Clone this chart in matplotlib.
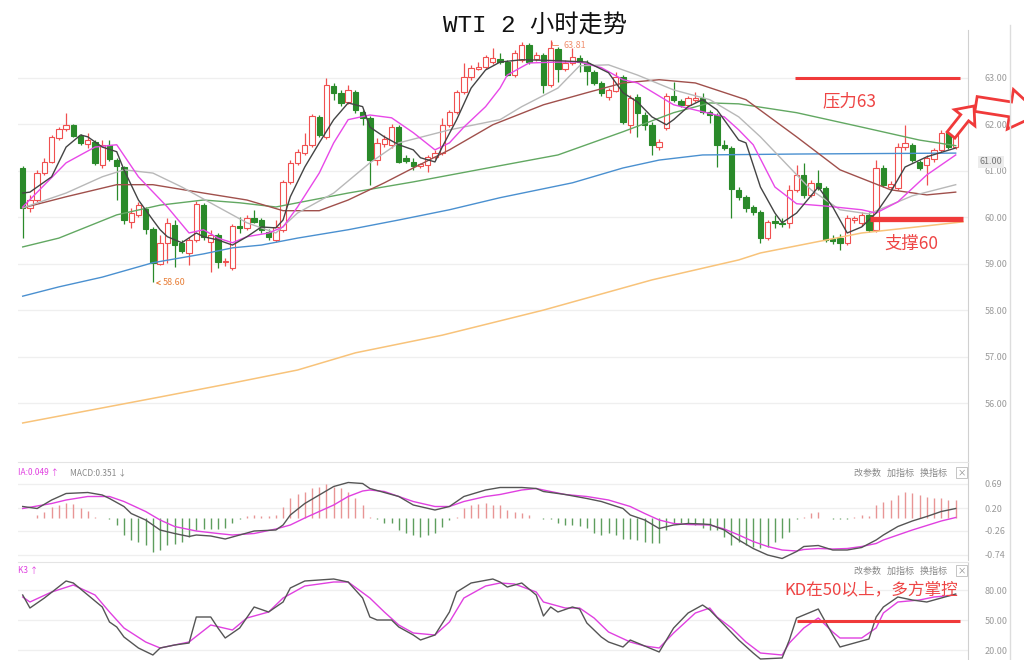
import matplotlib
matplotlib.use('Agg')
import matplotlib.pyplot as plt
from matplotlib.patches import FancyArrow
from matplotlib.lines import Line2D
from matplotlib.transforms import IdentityTransform
import numpy as np

plt.rcParams['font.family'] = ['Noto Sans CJK SC', 'DejaVu Sans']

# 2h candles
opens = [61.06, 60.20, 60.37, 60.95, 61.19, 61.71, 61.90, 61.99, 61.75, 61.58,
         61.62, 61.13, 61.56, 61.23, 61.08, 59.90, 60.05, 60.18, 59.75, 58.99,
         59.45, 59.83, 59.45, 59.23, 59.51, 60.26, 59.47, 59.62, 59.04, 58.91,
         59.81, 59.77, 59.98, 59.94, 59.68, 59.51, 59.73, 60.76, 61.17, 61.38,
         61.56, 62.16, 61.73, 62.83, 62.68, 62.48, 62.70, 62.27, 62.14, 61.23,
         61.58, 61.56, 61.94, 61.28, 61.19, 61.11, 61.13, 61.30, 61.38, 61.99,
         62.27, 62.70, 63.02, 63.20, 63.24, 63.34, 63.41, 63.34, 63.06, 63.39,
         63.71, 63.41, 63.50, 62.85, 63.62, 63.19, 63.32, 63.43, 63.32, 63.13,
         62.89, 62.59, 62.72, 63.02, 61.99, 62.59, 62.20, 61.99, 61.51, 61.92,
         62.61, 62.50, 62.42, 62.52, 62.57, 62.27, 62.20, 61.56, 61.49, 60.59,
         60.44, 60.22, 60.11, 59.55, 59.92, 59.88, 59.88, 60.59, 60.91, 60.48,
         60.74, 60.63, 59.53, 59.55, 59.45, 59.94, 59.88, 60.05, 59.73, 61.06,
         60.65, 60.63, 61.51, 61.56, 61.19, 61.13, 61.26, 61.45, 61.82, 61.51]
highs = [61.10, 60.48, 61.02, 61.28, 61.77, 61.94, 62.25, 62.01, 61.79, 61.82,
         61.66, 61.66, 61.66, 61.28, 61.10, 60.20, 60.33, 60.22, 59.79, 59.62,
         59.98, 59.94, 59.51, 59.58, 60.35, 60.31, 59.73, 59.66, 59.12, 59.86,
         60.01, 60.05, 60.16, 59.98, 59.75, 59.94, 60.80, 61.23, 61.47, 61.82,
         62.23, 62.20, 63.00, 62.89, 62.74, 62.85, 62.74, 62.31, 62.18, 61.71,
         61.77, 62.01, 61.99, 61.34, 61.28, 61.17, 61.34, 61.45, 62.14, 62.31,
         62.74, 63.32, 63.28, 63.34, 63.50, 63.65, 63.54, 63.39, 63.60, 63.78,
         63.75, 63.56, 63.54, 63.81, 63.67, 63.39, 63.65, 63.50, 63.39, 63.17,
         62.94, 62.78, 63.13, 63.06, 62.63, 62.66, 62.27, 62.05, 61.68, 62.68,
         62.91, 62.55, 62.61, 62.70, 62.68, 62.31, 62.25, 61.66, 61.54, 60.65,
         60.48, 60.26, 60.16, 59.94, 60.05, 59.98, 60.70, 61.13, 61.17, 60.80,
         61.02, 60.67, 59.62, 59.64, 60.05, 60.03, 60.11, 60.11, 61.23, 61.13,
         60.78, 61.60, 61.99, 61.60, 61.23, 61.34, 61.49, 61.88, 61.88, 61.99]
lows = [59.55, 60.11, 60.33, 60.91, 61.17, 61.66, 61.86, 61.73, 61.56, 61.49,
        61.13, 61.06, 61.21, 60.37, 59.86, 59.77, 60.01, 59.64, 58.60, 58.97,
        59.01, 58.93, 59.23, 58.97, 59.47, 59.51, 58.82, 58.91, 58.95, 58.86,
        59.66, 59.73, 59.88, 59.66, 59.51, 59.47, 59.68, 60.72, 61.13, 61.34,
        61.51, 61.73, 61.68, 62.53, 62.40, 62.44, 62.25, 61.99, 60.70, 61.13,
        61.51, 61.49, 61.17, 61.17, 61.02, 61.06, 60.98, 61.26, 61.34, 61.94,
        62.23, 62.66, 62.96, 63.17, 63.19, 63.30, 63.30, 63.04, 63.02, 63.34,
        63.30, 63.37, 62.68, 62.81, 62.91, 63.15, 63.28, 63.13, 62.85, 62.85,
        62.61, 62.53, 62.70, 62.01, 61.82, 61.73, 61.88, 61.34, 61.45, 61.88,
        62.48, 62.38, 62.38, 62.48, 62.23, 62.03, 61.08, 61.45, 59.98, 60.37,
        60.11, 60.05, 59.45, 59.51, 59.77, 59.79, 59.77, 60.54, 60.41, 60.44,
        60.59, 59.47, 59.43, 59.30, 59.40, 59.88, 59.81, 59.68, 59.68, 60.65,
        60.61, 60.59, 61.45, 61.19, 61.02, 60.70, 61.19, 61.41, 61.47, 61.47]
closes = [60.20, 60.37, 60.95, 61.19, 61.73, 61.90, 61.99, 61.75, 61.60, 61.66,
          61.17, 61.56, 61.26, 61.10, 59.94, 60.09, 60.26, 59.75, 59.01, 59.45,
          59.88, 59.40, 59.27, 59.51, 60.29, 59.58, 59.62, 59.04, 59.06, 59.81,
          59.77, 59.98, 59.90, 59.73, 59.58, 59.79, 60.76, 61.17, 61.41, 61.56,
          62.18, 61.77, 62.85, 62.68, 62.46, 62.74, 62.31, 62.14, 61.23, 61.60,
          61.69, 61.94, 61.19, 61.21, 61.10, 61.13, 61.30, 61.38, 61.99, 62.27,
          62.70, 63.02, 63.22, 63.24, 63.45, 63.43, 63.34, 63.06, 63.54, 63.71,
          63.34, 63.50, 62.85, 63.65, 63.19, 63.32, 63.45, 63.34, 63.15, 62.89,
          62.68, 62.74, 63.02, 62.05, 62.57, 62.25, 61.99, 61.56, 61.62, 62.61,
          62.53, 62.42, 62.57, 62.57, 62.27, 62.20, 61.56, 61.49, 60.61, 60.44,
          60.20, 60.11, 59.55, 59.90, 59.88, 59.86, 60.59, 60.91, 60.48, 60.74,
          60.63, 59.51, 59.49, 59.45, 59.98, 59.98, 60.05, 59.73, 61.06, 60.70,
          60.72, 61.51, 61.60, 61.23, 61.06, 61.28, 61.45, 61.82, 61.51, 61.84]

# moving averages: (bar index, price)
ma5_x = [0, 1, 4, 6, 8, 9, 11, 13, 14, 16, 18, 19, 20, 22, 24, 25, 27, 29, 31, 33, 35, 36, 37, 39,
         41, 43, 45, 47, 48, 50, 52, 54, 55, 57, 58, 60, 62, 64, 66, 69, 74, 78, 81, 83, 85, 87,
         89, 90, 92, 94, 96, 99, 100, 102, 104, 105, 107, 110, 112, 114, 116, 118, 120, 122, 125, 129]
ma5_y = [60.52, 60.54, 60.87, 61.51, 61.77, 61.73, 61.51, 61.41, 61.02, 60.37, 59.94, 59.73, 59.58,
         59.45, 59.66, 59.58, 59.51, 59.40, 59.58, 59.79, 59.77, 59.94, 60.44, 61.08, 61.60, 62.10,
         62.46, 62.38, 61.94, 61.73, 61.56, 61.45, 61.28, 61.19, 61.51, 62.10, 62.78, 63.17, 63.34,
         63.39, 63.37, 63.34, 63.11, 62.68, 62.48, 62.16, 61.99, 62.10, 62.38, 62.53, 62.31, 61.66,
         61.60, 60.65, 60.09, 59.88, 60.09, 60.65, 60.22, 59.66, 59.79, 60.09, 60.54, 61.08, 61.30,
         61.49]
ma10_x = [0, 6, 10, 13, 16, 20, 23, 25, 27, 29, 31, 34, 36, 38, 41, 43, 45, 48, 51, 54, 57, 59, 61,
          64, 66, 67, 70, 74, 77, 80, 83, 85, 90, 94, 97, 99, 101, 104, 107, 111, 116, 118, 121, 125, 129]
ma10_y = [60.22, 61.17, 61.51, 61.56, 60.87, 60.22, 59.66, 59.73, 59.55, 59.45, 59.58, 59.66, 59.79,
          60.22, 60.95, 61.60, 62.10, 62.20, 62.14, 61.82, 61.45, 61.60, 61.94, 62.38, 62.78, 63.06,
          63.32, 63.34, 63.34, 63.22, 62.96, 62.89, 62.42, 62.27, 62.16, 61.88, 61.56, 60.65, 60.29,
          60.24, 60.16, 60.09, 60.33, 60.91, 61.34]
ma20_x = [0, 6, 11, 14, 18, 22, 27, 31, 35, 38, 43, 48, 52, 59, 66, 69, 74, 77, 81, 85, 90, 95, 99,
          102, 109, 113, 117, 123, 129]
ma20_y = [60.20, 60.52, 60.87, 61.02, 60.95, 60.65, 60.22, 59.88, 59.66, 60.09, 60.52, 61.17, 61.60,
          61.88, 62.10, 62.38, 62.78, 63.26, 63.28, 63.06, 62.74, 62.53, 62.16, 61.73, 60.59, 60.16,
          60.07, 60.46, 60.70]
ma30_x = [0, 6, 13, 18, 25, 31, 36, 41, 45, 50, 54, 59, 65, 72, 78, 83, 88, 93, 100, 107, 113, 120,
          125, 129]
ma30_y = [60.20, 60.44, 60.70, 60.70, 60.52, 60.37, 60.14, 60.14, 60.37, 60.74, 61.06, 61.45, 61.99,
          62.42, 62.68, 62.89, 62.96, 62.89, 62.53, 61.73, 61.02, 60.59, 60.48, 60.54]
ma60_x = [0, 5, 13, 19, 25, 30, 35, 38, 45, 54, 65, 74, 83, 90, 95, 99, 107, 116, 124, 129]
ma60_y = [59.36, 59.55, 60.05, 60.26, 60.37, 60.31, 60.22, 60.31, 60.52, 60.76, 61.08, 61.34, 61.84,
          62.25, 62.46, 62.44, 62.25, 61.94, 61.66, 61.54]
ma120_x = [0, 5, 11, 18, 25, 29, 33, 38, 45, 52, 59, 66, 76, 83, 88, 94, 107, 129]
ma120_y = [58.30, 58.50, 58.71, 59.02, 59.21, 59.34, 59.40, 59.55, 59.73, 59.94, 60.16, 60.42, 60.74,
           61.06, 61.23, 61.34, 61.36, 61.38]
ma250_x = [0, 19, 29, 38, 46, 58, 72, 87, 99, 102, 116, 130]
ma250_y = [55.57, 56.13, 56.43, 56.71, 57.08, 57.46, 58.00, 58.65, 59.08, 59.23, 59.66, 59.90]

# MACD histogram, one per bar
macd_hist = [0.01, 0.01, 0.07, 0.13, 0.23, 0.27, 0.30, 0.28, 0.20, 0.15,
             0.03, 0.01, -0.01, -0.13, -0.33, -0.43, -0.47, -0.53, -0.67, -0.63,
             -0.53, -0.52, -0.48, -0.37, -0.23, -0.21, -0.21, -0.21, -0.20, -0.10,
             -0.01, 0.05, 0.07, 0.05, 0.05, 0.07, 0.23, 0.40, 0.48, 0.53,
             0.61, 0.63, 0.68, 0.62, 0.60, 0.53, 0.40, 0.27, 0.03, -0.02,
             -0.10, -0.10, -0.23, -0.30, -0.33, -0.37, -0.33, -0.30, -0.17, -0.03,
             0.03, 0.20, 0.27, 0.28, 0.30, 0.27, 0.27, 0.17, 0.13, 0.11,
             0.07, 0.01, -0.01, -0.01, -0.10, -0.13, -0.13, -0.15, -0.20, -0.30,
             -0.33, -0.30, -0.33, -0.41, -0.41, -0.43, -0.47, -0.50, -0.50, -0.23,
             -0.10, -0.10, -0.10, -0.13, -0.20, -0.23, -0.23, -0.37, -0.53, -0.47,
             -0.53, -0.57, -0.59, -0.57, -0.47, -0.40, -0.27, -0.02, 0.03, 0.10,
             0.12, 0.01, -0.01, -0.01, -0.01, 0.03, 0.07, 0.05, 0.27, 0.32,
             0.37, 0.47, 0.53, 0.50, 0.47, 0.43, 0.40, 0.40, 0.37, 0.37]
dif_x = [0, 2, 4, 6, 9, 11, 12, 14, 15, 17, 19, 21, 23, 24, 26, 28, 30, 32, 35, 36, 37, 39, 41, 43,
         45, 47, 48, 50, 52, 54, 57, 59, 61, 64, 66, 69, 71, 72, 75, 78, 80, 83, 84, 86, 88, 90, 92,
         94, 95, 97, 99, 101, 103, 105, 107, 108, 110, 112, 114, 116, 118, 119, 121, 123, 125, 127, 129]
dif_y = [0.23, 0.19, 0.36, 0.49, 0.51, 0.46, 0.39, 0.23, 0.09, -0.04, -0.24, -0.31, -0.37, -0.34,
         -0.36, -0.42, -0.34, -0.26, -0.24, -0.14, 0.06, 0.29, 0.46, 0.63, 0.71, 0.69, 0.59, 0.51,
         0.43, 0.26, 0.16, 0.23, 0.43, 0.56, 0.61, 0.61, 0.59, 0.53, 0.47, 0.39, 0.33, 0.19, 0.06,
         -0.04, -0.21, -0.14, -0.11, -0.12, -0.13, -0.24, -0.44, -0.61, -0.74, -0.81, -0.67, -0.57,
         -0.55, -0.64, -0.64, -0.59, -0.44, -0.34, -0.17, -0.06, 0.03, 0.13, 0.19]
dea_x = [0, 4, 6, 9, 12, 14, 17, 19, 21, 24, 27, 29, 32, 35, 37, 39, 41, 43, 45, 47, 48, 50, 52, 54,
         57, 59, 61, 64, 66, 69, 71, 72, 75, 78, 81, 84, 86, 88, 90, 92, 95, 97, 99, 101, 103, 105,
         107, 108, 110, 112, 114, 116, 118, 119, 121, 123, 125, 127, 129]
dea_y = [0.19, 0.29, 0.36, 0.43, 0.43, 0.33, 0.13, -0.04, -0.17, -0.26, -0.31, -0.34, -0.31, -0.22,
         -0.14, 0.00, 0.13, 0.26, 0.43, 0.54, 0.56, 0.53, 0.43, 0.33, 0.23, 0.23, 0.33, 0.43, 0.47,
         0.56, 0.59, 0.56, 0.47, 0.43, 0.36, 0.23, 0.09, -0.04, -0.11, -0.13, -0.14, -0.22, -0.34,
         -0.47, -0.57, -0.64, -0.66, -0.63, -0.61, -0.62, -0.61, -0.57, -0.51, -0.44, -0.34, -0.24,
         -0.15, -0.06, 0.01]

# KD
k_x = [0, 1, 3, 6, 7, 9, 11, 12, 13, 14, 16, 18, 19, 21, 23, 24, 26, 27, 28, 30, 32, 34, 36, 37,
       39, 41, 43, 45, 47, 48, 49, 51, 52, 54, 55, 57, 59, 60, 62, 65, 66, 67, 69, 71, 72, 73, 74,
       76, 77, 78, 80, 81, 83, 84, 85, 88, 90, 92, 94, 95, 97, 99, 101, 102, 105, 106, 107, 109,
       110, 112, 113, 115, 117, 118, 119, 121, 123, 125, 127, 129]
k_y = [75, 62, 72, 89, 87, 75, 63, 48, 43, 33, 22, 15, 22, 25, 27, 53, 53, 42, 32, 42, 63, 58, 68,
       82, 89, 90, 91, 88, 72, 53, 50, 50, 43, 35, 30, 35, 58, 78, 87, 91, 88, 83, 87, 75, 54, 63,
       58, 63, 61, 47, 33, 28, 23, 30, 27, 18, 42, 57, 65, 60, 45, 30, 17, 11, 12, 30, 52, 58, 61,
       35, 23, 27, 31, 53, 63, 73, 70, 68, 72, 76]
d_x = [0, 1, 4, 7, 10, 12, 14, 17, 19, 21, 23, 26, 29, 31, 34, 36, 39, 43, 45, 48, 50, 52, 54, 57,
       59, 61, 64, 66, 68, 71, 72, 75, 77, 79, 81, 84, 86, 88, 90, 93, 95, 96, 98, 100, 102, 105,
       106, 108, 110, 112, 113, 116, 118, 119, 121, 124, 126, 129]
d_y = [73, 68, 78, 85, 75, 58, 42, 28, 22, 25, 28, 45, 40, 52, 58, 72, 84, 88, 88, 72, 58, 45, 37,
       35, 48, 72, 84, 87, 86, 78, 68, 62, 62, 52, 38, 28, 24, 22, 37, 57, 62, 53, 42, 28, 17, 15,
       27, 42, 52, 38, 32, 32, 42, 57, 68, 70, 73, 75]

price_ticks = [56, 57, 58, 59, 60, 61, 62, 63]
macd_ticks = [0.69, 0.20, -0.26, -0.74]
kd_ticks = [80, 50, 20]

RED = '#f05050'
GREEN = '#2a8a2a'
LINE_RED = '#f03a3a'
GRID = '#efefef'
LABEL = '#9a9a9a'

W, H = 1024, 660
fig = plt.figure(figsize=(W / 100, H / 100), dpi=100)


def frame(x0, y0, x1, y1):
    # pixel box (origin top-left) -> figure rect
    return [x0 / W, 1 - y1 / H, (x1 - x0) / W, (y1 - y0) / H]


ax = fig.add_axes(frame(18, 30, 968, 462))
macd_ax = fig.add_axes(frame(18, 462, 968, 560))
kd_ax = fig.add_axes(frame(18, 562, 968, 660))

o = np.array(opens)
c = np.array(closes)
hi = np.array(highs)
lo = np.array(lows)
idx = np.arange(len(c))
up = c >= o
edge = np.where(up, RED, GREEN)
face = np.where(up, 'white', GREEN)

for a in (ax, macd_ax, kd_ax):
    a.set_xlim(-0.65, 130.7)
    a.set_xticks([])
    for s in ('left', 'bottom', 'top'):
        a.spines[s].set_visible(False)
    a.spines['right'].set_color('#d0d0d0')
    a.yaxis.tick_right()
    a.tick_params(axis='y', length=0, pad=12, labelsize=6.5, labelcolor=LABEL)
    a.grid(axis='y', color=GRID, lw=0.9)
    a.set_axisbelow(True)

# main price panel
ax.set_ylim(54.73, 64.03)
ax.set_yticks(price_ticks)
ax.set_yticklabels(['%.2f' % t for t in price_ticks])
ax.vlines(idx, lo, hi, colors=edge, lw=0.9, zorder=2)
ax.bar(idx, np.maximum(np.abs(c - o), 0.025), bottom=np.minimum(o, c), width=0.74,
       color=face, edgecolor=edge, linewidth=0.8, zorder=3)

ax.plot(ma250_x, ma250_y, color='#f8c37a', lw=1.1, zorder=4)
ax.plot(ma120_x, ma120_y, color='#4a90d0', lw=1.0, zorder=4)
ax.plot(ma60_x, ma60_y, color='#62a862', lw=1.0, zorder=4)
ax.plot(ma30_x, ma30_y, color='#a0504c', lw=1.0, zorder=4)
ax.plot(ma20_x, ma20_y, color='#b8b8b8', lw=1.0, zorder=4)
ax.plot(ma10_x, ma10_y, color='#e848e8', lw=1.0, zorder=4)
ax.plot(ma5_x, ma5_y, color='#444444', lw=1.0, zorder=5)

ax.hlines(63.0, 106.8, 129.6, color=LINE_RED, lw=2.2, zorder=6)
ax.hlines(59.97, 117.2, 130.0, color=LINE_RED, lw=3.8, zorder=6)
ax.text(114.3, 62.50, '压力63', color='#ee4444', fontsize=12.5, ha='center', va='center')
ax.text(122.8, 59.43, '支撑60', color='#ee4444', fontsize=12.5, ha='center', va='center')

ax.annotate('58.60', xy=(18, 58.58), xytext=(19.4, 58.60), fontsize=6.5, color='#e8803a',
            va='center', arrowprops=dict(arrowstyle='->', color='#e8803a', lw=0.7))
ax.annotate('63.81', xy=(73.2, 63.83), xytext=(74.8, 63.70), fontsize=6.5, color='#f09070',
            va='center', arrowprops=dict(arrowstyle='-', color='#f09070', lw=0.7,
                                         connectionstyle='angle,angleA=0,angleB=90'))
ax.text(1.012, 61.19, '61.00', transform=ax.get_yaxis_transform(), fontsize=6.5,
        color='#777777', va='center',
        bbox=dict(facecolor='#ececec', edgecolor='none', pad=1.2))

# MACD panel
macd_ax.set_ylim(-0.84, 1.12)
macd_ax.set_yticks(macd_ticks)
macd_ax.set_yticklabels(['%.2f' % t for t in macd_ticks])
macd_ax.spines['top'].set_visible(True)
macd_ax.spines['top'].set_color('#e4e4e4')
h = np.array(macd_hist)
macd_ax.vlines(idx, 0, h, colors=np.where(h >= 0, '#e89595', '#5e9e5e'), lw=1.0)
macd_ax.plot(dea_x, dea_y, color='#e040e0', lw=1.0)
macd_ax.plot(dif_x, dif_y, color='#555555', lw=1.0)

# KD panel
kd_ax.set_ylim(10, 108)
kd_ax.set_yticks(kd_ticks)
kd_ax.set_yticklabels(['%.2f' % t for t in kd_ticks])
kd_ax.spines['top'].set_visible(True)
kd_ax.spines['top'].set_color('#e4e4e4')
kd_ax.plot(d_x, d_y, color='#e040e0', lw=1.0)
kd_ax.plot(k_x, k_y, color='#555555', lw=1.0)
kd_ax.hlines(49, 107.1, 129.6, color=LINE_RED, lw=2.2)
kd_ax.text(117.3, 80, 'KD在50以上，多方掌控', color='#ee4444', fontsize=12,
           ha='center', va='center')

# panel headers
macd_ax.text(0.0, 0.89, 'IA:0.049 ↑', transform=macd_ax.transAxes, fontsize=6,
             color='#e040e0', va='center')
macd_ax.text(0.055, 0.89, 'MACD:0.351 ↓', transform=macd_ax.transAxes, fontsize=6,
             color='#888888', va='center')
kd_ax.text(0.0, 0.91, 'K3 ↑', transform=kd_ax.transAxes, fontsize=6,
           color='#e040e0', va='center')
for a, yy in ((macd_ax, 0.89), (kd_ax, 0.91)):
    a.text(0.978, yy, '改参数   加指标   换指标', transform=a.transAxes, fontsize=6.5,
           color='#888888', va='center', ha='right')
    a.text(0.993, yy, '×', transform=a.transAxes, fontsize=6, color='#888888',
           va='center', ha='center',
           bbox=dict(facecolor='white', edgecolor='#bbbbbb', pad=0.8, lw=0.6))

fig.add_artist(Line2D([1010 / W, 1010 / W], [0, 1 - 25 / H], color='#dddddd', lw=1.0))

# hollow arrows on the right edge
fig.add_artist(FancyArrow(951, H - 135, 23, 29, width=10, head_width=26, head_length=15,
                          length_includes_head=True, facecolor='white', edgecolor=LINE_RED,
                          lw=2.0, transform=IdentityTransform()))
fig.add_artist(FancyArrow(976, H - 104, 64, -10, width=15, head_width=40, head_length=30,
                          length_includes_head=True, facecolor='white', edgecolor=LINE_RED,
                          lw=2.0, transform=IdentityTransform()))

fig.text(535 / W, 1 - 25 / H, 'WTI 2 小时走势', fontsize=17.5, ha='center', va='center',
         family=['Liberation Mono', 'Noto Sans CJK SC'], color='#111111')

fig.savefig('out.png', dpi=100)
